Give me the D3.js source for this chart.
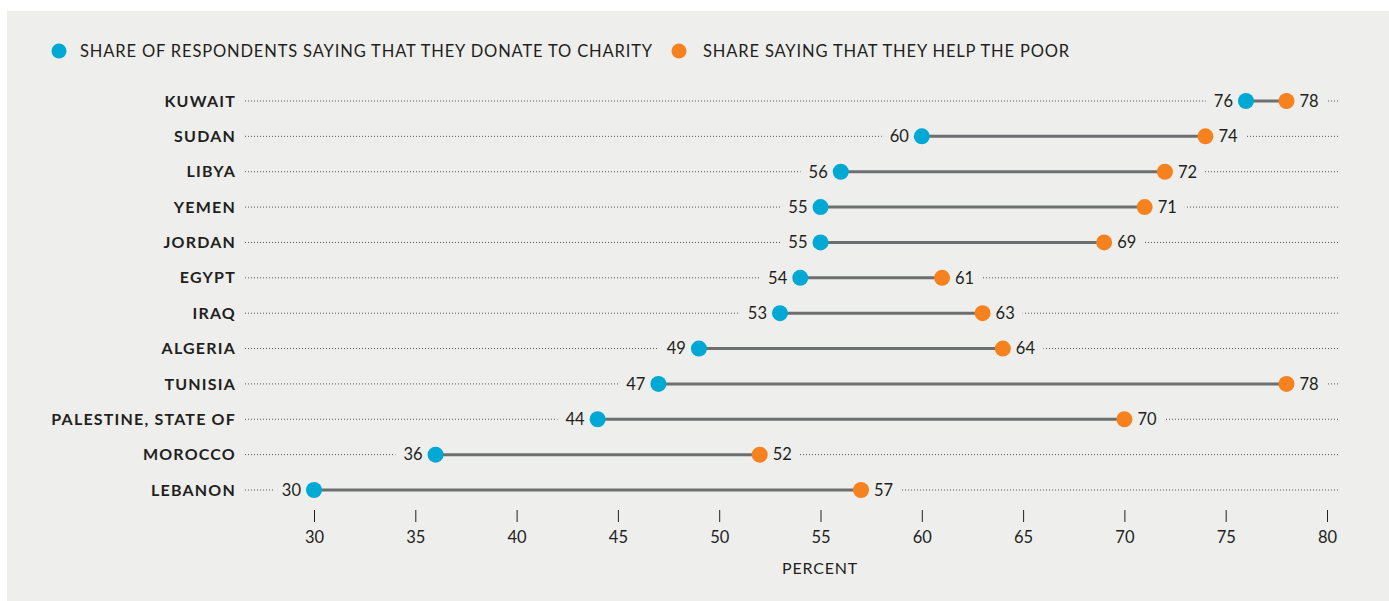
<!DOCTYPE html>
<html>
<head>
<meta charset="utf-8">
<script src="https://cdn.jsdelivr.net/npm/d3@7"></script>
<style>
  html, body { margin: 0; padding: 0; background: #ffffff; }
  svg { display: block; font-family: "Lato", "Open Sans", sans-serif; }
</style>
</head>
<body>
<svg id="chart" width="1389" height="601"></svg>
<script>
// Countries, top to bottom
const countries = ["KUWAIT", "SUDAN", "LIBYA", "YEMEN", "JORDAN", "EGYPT", "IRAQ",
  "ALGERIA", "TUNISIA", "PALESTINE, STATE OF", "MOROCCO", "LEBANON"];
// Share of respondents saying that they donate to charity (%)
const donate = [76, 60, 56, 55, 55, 54, 53, 49, 47, 44, 36, 30];
// Share saying that they help the poor (%)
const helpPoor = [78, 74, 72, 71, 69, 61, 63, 64, 78, 70, 52, 57];
// Axis ticks
const xTicks = [30, 35, 40, 45, 50, 55, 60, 65, 70, 75, 80];
const legendLabels = ["SHARE OF RESPONDENTS SAYING THAT THEY DONATE TO CHARITY", "SHARE SAYING THAT THEY HELP THE POOR"];

const BLUE = "#00a9d4", ORANGE = "#f5821f", INK = "#231f20", PANEL = "#eeeeed";

const svg = d3.select("#chart");

svg.append("rect").attr("x", 7).attr("y", 11).attr("width", 1382).attr("height", 590).attr("fill", PANEL);

const x = d3.scaleLinear().domain([30, 80]).range([314, 1327]);
const y = d3.scalePoint().domain(countries).range([101, 490]);

// Legend
const legend = svg.append("g");
const legItems = [
  { label: legendLabels[0], color: BLUE, cx: 59, tx: 80 },
  { label: legendLabels[1], color: ORANGE, cx: 679, tx: 703 }
];
legItems.forEach(d => {
  legend.append("circle").attr("cx", d.cx).attr("cy", 51).attr("r", 7.5).attr("fill", d.color);
  legend.append("text").attr("x", d.tx).attr("y", 51).attr("dy", "0.35em")
    .attr("font-size", 16.5).attr("letter-spacing", 0.85).attr("fill", INK).text(d.label);
});

const rows = countries.map((c, i) => ({ c, a: donate[i], b: helpPoor[i] }));

// Dotted guide lines
svg.append("g").selectAll("line").data(rows).join("line")
  .attr("x1", 245).attr("x2", 1338)
  .attr("y1", d => y(d.c)).attr("y2", d => y(d.c))
  .attr("stroke", "#555").attr("stroke-width", 1)
  .attr("stroke-dasharray", "1,2");

// Country labels
svg.append("g").selectAll("text").data(rows).join("text")
  .attr("x", 236).attr("y", d => y(d.c)).attr("dy", "0.35em")
  .attr("text-anchor", "end").attr("font-size", 16).attr("font-weight", 700)
  .attr("letter-spacing", 1.2)
  .attr("fill", INK).text(d => d.c);

// Value labels (with panel-coloured backing that breaks the dotted line)
const labels = [];
rows.forEach(d => {
  const lo = Math.min(d.a, d.b), hi = Math.max(d.a, d.b);
  labels.push({ c: d.c, v: lo, side: "left" });
  labels.push({ c: d.c, v: hi, side: "right" });
});
const lg = svg.append("g");
const lt = lg.selectAll("g").data(labels).join("g");
lt.each(function(d) {
  const g = d3.select(this);
  const px = d.side === "left" ? x(d.v) - 13 : x(d.v) + 13;
  const t = g.append("text")
    .attr("x", px).attr("y", y(d.c)).attr("dy", "0.35em")
    .attr("text-anchor", d.side === "left" ? "end" : "start")
    .attr("font-size", 16.5).attr("fill", INK).text(d.v);
  const bb = t.node().getBBox();
  g.insert("rect", "text")
    .attr("x", d.side === "left" ? bb.x - 8 : bb.x - 14)
    .attr("y", y(d.c) - 6).attr("height", 12)
    .attr("width", bb.width + 22)
    .attr("fill", PANEL);
});

// Connecting segments
svg.append("g").selectAll("line").data(rows).join("line")
  .attr("x1", d => x(d.a)).attr("x2", d => x(d.b))
  .attr("y1", d => y(d.c)).attr("y2", d => y(d.c))
  .attr("stroke", "#6d6e70").attr("stroke-width", 3);

// Dots
svg.append("g").selectAll("circle").data(rows).join("circle")
  .attr("cx", d => x(d.a)).attr("cy", d => y(d.c)).attr("r", 8).attr("fill", BLUE);
svg.append("g").selectAll("circle").data(rows).join("circle")
  .attr("cx", d => x(d.b)).attr("cy", d => y(d.c)).attr("r", 8).attr("fill", ORANGE);

// X axis
const axis = d3.axisBottom(x).tickValues(xTicks).tickSize(12).tickPadding(9);
const ax = svg.append("g").attr("transform", "translate(0,510)").call(axis);
ax.select(".domain").remove();
ax.selectAll(".tick line").attr("stroke", INK).attr("stroke-width", 1);
ax.selectAll(".tick text").attr("font-size", 16.5).attr("fill", INK)
  .attr("font-family", "Lato, 'Open Sans', sans-serif");

svg.append("text").attr("x", 820).attr("y", 568).attr("dy", "0.35em")
  .attr("text-anchor", "middle").attr("font-size", 16).attr("letter-spacing", 0.8)
  .attr("fill", INK).text("PERCENT");
</script>
</body>
</html>
